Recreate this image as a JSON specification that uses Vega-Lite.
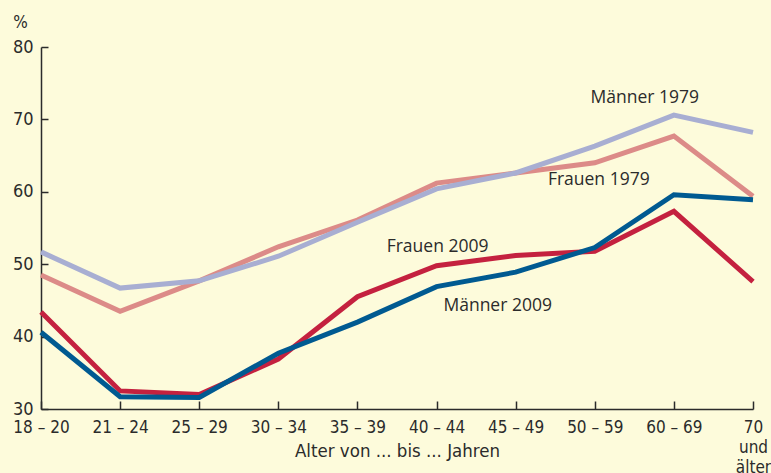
{
  "$schema": "https://vega.github.io/schema/vega-lite/v6.json",
  "width": 712,
  "height": 362,
  "autosize": {"type": "none"},
  "padding": {"left": 41, "top": 47, "right": 18, "bottom": 64},
  "background": "#fdfbdb",
  "config": {
    "view": {"stroke": null},
    "font": "DejaVu Sans Condensed, Liberation Sans Narrow, Roboto Condensed, Liberation Sans, sans-serif"
  },
  "datasets": {
    "lines": [
      {"series": "Frauen 1979", "age": "18 – 20", "pct": 48.5},
      {"series": "Frauen 1979", "age": "21 – 24", "pct": 43.5},
      {"series": "Frauen 1979", "age": "25 – 29", "pct": 47.7},
      {"series": "Frauen 1979", "age": "30 – 34", "pct": 52.4},
      {"series": "Frauen 1979", "age": "35 – 39", "pct": 56.1},
      {"series": "Frauen 1979", "age": "40 – 44", "pct": 61.2},
      {"series": "Frauen 1979", "age": "45 – 49", "pct": 62.6},
      {"series": "Frauen 1979", "age": "50 – 59", "pct": 64.0},
      {"series": "Frauen 1979", "age": "60 – 69", "pct": 67.7},
      {"series": "Frauen 1979", "age": "70 und älter", "pct": 59.4},
      {"series": "Männer 1979", "age": "18 – 20", "pct": 51.7},
      {"series": "Männer 1979", "age": "21 – 24", "pct": 46.7},
      {"series": "Männer 1979", "age": "25 – 29", "pct": 47.7},
      {"series": "Männer 1979", "age": "30 – 34", "pct": 51.1},
      {"series": "Männer 1979", "age": "35 – 39", "pct": 55.8},
      {"series": "Männer 1979", "age": "40 – 44", "pct": 60.4},
      {"series": "Männer 1979", "age": "45 – 49", "pct": 62.6},
      {"series": "Männer 1979", "age": "50 – 59", "pct": 66.3},
      {"series": "Männer 1979", "age": "60 – 69", "pct": 70.6},
      {"series": "Männer 1979", "age": "70 und älter", "pct": 68.2},
      {"series": "Frauen 2009", "age": "18 – 20", "pct": 43.4},
      {"series": "Frauen 2009", "age": "21 – 24", "pct": 32.5},
      {"series": "Frauen 2009", "age": "25 – 29", "pct": 32.0},
      {"series": "Frauen 2009", "age": "30 – 34", "pct": 36.9},
      {"series": "Frauen 2009", "age": "35 – 39", "pct": 45.5},
      {"series": "Frauen 2009", "age": "40 – 44", "pct": 49.8},
      {"series": "Frauen 2009", "age": "45 – 49", "pct": 51.2},
      {"series": "Frauen 2009", "age": "50 – 59", "pct": 51.8},
      {"series": "Frauen 2009", "age": "60 – 69", "pct": 57.3},
      {"series": "Frauen 2009", "age": "70 und älter", "pct": 47.6},
      {"series": "Männer 2009", "age": "18 – 20", "pct": 40.6},
      {"series": "Männer 2009", "age": "21 – 24", "pct": 31.7},
      {"series": "Männer 2009", "age": "25 – 29", "pct": 31.6},
      {"series": "Männer 2009", "age": "30 – 34", "pct": 37.7},
      {"series": "Männer 2009", "age": "35 – 39", "pct": 42.0},
      {"series": "Männer 2009", "age": "40 – 44", "pct": 46.9},
      {"series": "Männer 2009", "age": "45 – 49", "pct": 48.9},
      {"series": "Männer 2009", "age": "50 – 59", "pct": 52.3},
      {"series": "Männer 2009", "age": "60 – 69", "pct": 59.6},
      {"series": "Männer 2009", "age": "70 und älter", "pct": 58.9}
    ],
    "labels": [
      {"label": "Männer 1979", "age": "50 – 59", "pct": 73.0},
      {"label": "Frauen 1979", "age": "50 – 59", "pct": 61.6},
      {"label": "Frauen 2009", "age": "40 – 44", "pct": 52.4},
      {"label": "Männer 2009", "age": "45 – 49", "pct": 44.2}
    ]
  },
  "encoding": {
    "x": {
      "field": "age",
      "type": "ordinal",
      "scale": {
        "type": "point",
        "padding": 0,
        "domain": ["18 – 20", "21 – 24", "25 – 29", "30 – 34", "35 – 39", "40 – 44", "45 – 49", "50 – 59", "60 – 69", "70 und älter"]
      },
      "axis": {
        "title": "Alter von ... bis ... Jahren",
        "titleFontSize": 18.5,
        "titleFontWeight": "normal",
        "titleColor": "#2b2b2b",
        "titleY": 32,
        "titleBaseline": "top",
        "labelAngle": 0,
        "labelFontSize": 17,
        "labelColor": "#2b2b2b",
        "labelPadding": 18,
        "labelLineHeight": 20,
        "labelExpr": "datum.value == '70 und älter' ? ['70', 'und', 'älter'] : datum.label",
        "labelOverlap": false,
        "domainColor": "#2b2b2b",
        "domainWidth": 1.5,
        "tickColor": "#2b2b2b",
        "tickWidth": 1.5,
        "tickSize": -8,
        "grid": false
      }
    },
    "y": {
      "field": "pct",
      "type": "quantitative",
      "scale": {"domain": [30, 80], "nice": false, "zero": false},
      "axis": {
        "title": "%",
        "titleAngle": 0,
        "titleFontSize": 17,
        "titleFontWeight": "normal",
        "titleColor": "#2b2b2b",
        "titleAlign": "center",
        "titleBaseline": "middle",
        "titleX": -21,
        "titleY": -25,
        "values": [30, 40, 50, 60, 70, 80],
        "labelFontSize": 18,
        "labelColor": "#2b2b2b",
        "labelPadding": 15,
        "domainColor": "#2b2b2b",
        "domainWidth": 1.5,
        "tickColor": "#2b2b2b",
        "tickWidth": 1.5,
        "tickSize": -7,
        "grid": false
      }
    }
  },
  "layer": [
    {
      "data": {"name": "lines"},
      "mark": {"type": "line", "strokeWidth": 5, "strokeJoin": "miter", "strokeCap": "butt"},
      "encoding": {
        "color": {
          "field": "series",
          "type": "nominal",
          "scale": {
            "domain": ["Frauen 1979", "Männer 1979", "Frauen 2009", "Männer 2009"],
            "range": ["#dc8b88", "#a8aed2", "#c4213f", "#005a91"]
          },
          "legend": null
        },
        "order": {"field": "series", "sort": "ascending"}
      }
    },
    {
      "data": {"name": "labels"},
      "transform": [{"filter": "datum.label == 'Männer 1979'"}],
      "mark": {"type": "text", "font": "Open Sans", "fontSize": 17.5, "color": "#2b2b2b", "dx": 50},
      "encoding": {"text": {"field": "label"}}
    },
    {
      "data": {"name": "labels"},
      "transform": [{"filter": "datum.label == 'Frauen 1979'"}],
      "mark": {"type": "text", "font": "Open Sans", "fontSize": 17.5, "color": "#2b2b2b", "dx": 4},
      "encoding": {"text": {"field": "label"}}
    },
    {
      "data": {"name": "labels"},
      "transform": [{"filter": "datum.label == 'Frauen 2009'"}],
      "mark": {"type": "text", "font": "Open Sans", "fontSize": 17.5, "color": "#2b2b2b", "dx": 1},
      "encoding": {"text": {"field": "label"}}
    },
    {
      "data": {"name": "labels"},
      "transform": [{"filter": "datum.label == 'Männer 2009'"}],
      "mark": {"type": "text", "font": "Open Sans", "fontSize": 17.5, "color": "#2b2b2b", "dx": -18},
      "encoding": {"text": {"field": "label"}}
    }
  ]
}
